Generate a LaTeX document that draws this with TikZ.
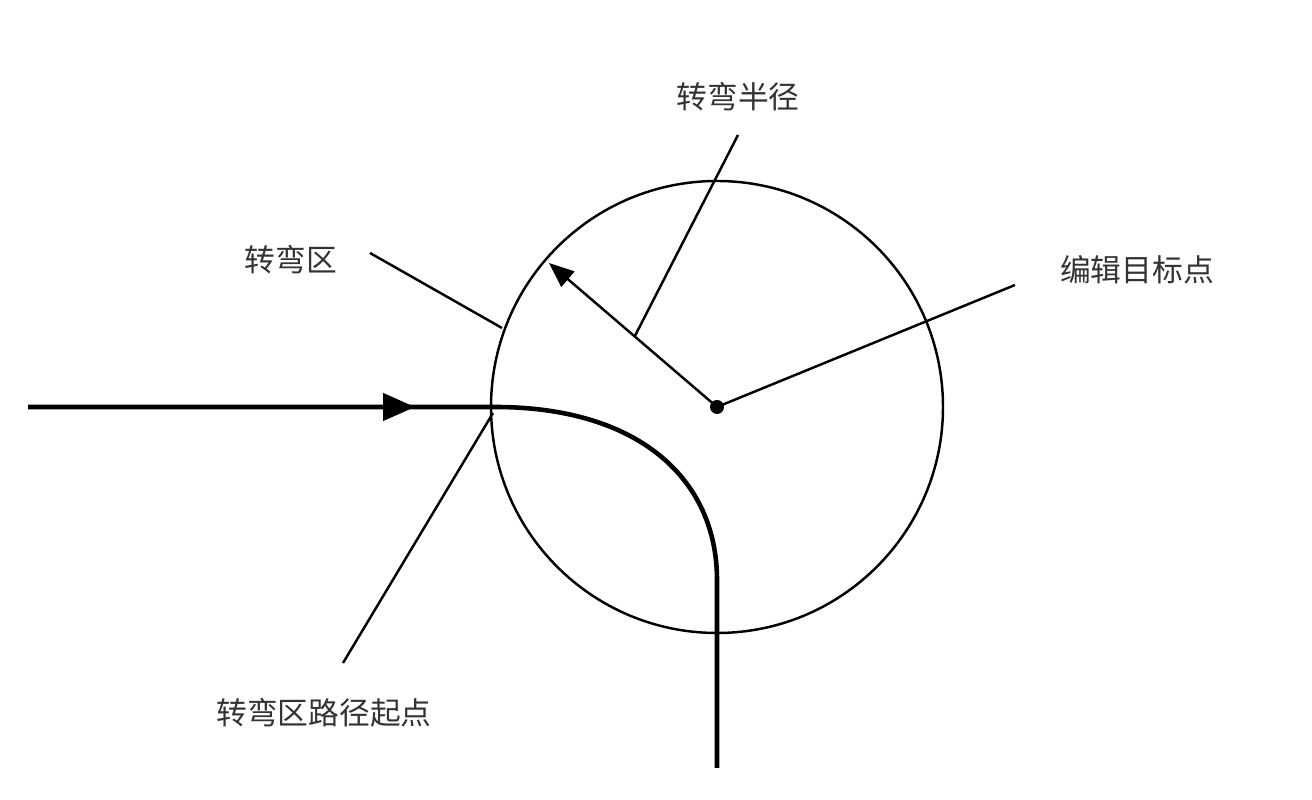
\documentclass[tikz,border=0pt]{standalone}
\usepackage{fontspec}
\setmainfont{Noto Sans CJK SC}
\usetikzlibrary{arrows.meta,calc}
\tikzset{
	lbl/.style={font=\fontsize{17.5}{20}\selectfont, text=black!80},
	lead/.style={line width=1.4pt},
	route/.style={line width=2.6pt}
}
\begin{document}
\begin{tikzpicture}
			\useasboundingbox (0,0) rectangle (26.24,16);
			% turning zone
			\coordinate (ctr) at (14.34, 7.86);
			\draw[lead](ctr) circle (4.52);
			\fill(ctr) circle (0.14);
				\coordinate (tip) at (10.98, 10.74);
				\draw[lead, -{Triangle[length=5mm, width=4mm]}](ctr) to (tip);

			% path
			\coordinate (in) at (0.56, 7.86);
			\coordinate (mid) at (8.3, 7.86);
			\coordinate (entry) at (9.9, 7.86);
			\coordinate (down) at (14.34, 4.4);
			\coordinate (out) at (14.34, 0.64);
			\draw[route](in) -- (entry) .. controls (12.8, 7.86) and (14.34, 6.4) .. (down) -- (out);
			\draw[route, -{Triangle[length=6.4mm, width=5.4mm]}](in) to (mid);

			% labels
			\node[lbl] (radius) at(14.76, 14.06){转弯半径};
				\coordinate (radiusA) at (14.76, 13.3);
				\draw[lead](radiusA) to ($(ctr)!0.49!(tip)$);
			\node[lbl] (zone) at(5.82, 10.8){转弯区};
				\coordinate (zoneA) at (7.4, 10.94);
				\coordinate (zoneB) at (10.04, 9.44);
				\draw[lead](zoneA) to (zoneB);
			\node[lbl] (target) at(22.74, 10.6){编辑目标点};
				\coordinate (targetA) at (20.3, 10.3);
				\draw[lead](ctr) to (targetA);
			\node[lbl] (start) at(6.48, 1.74){转弯区路径起点};
				\coordinate (startA) at (6.86, 2.74);
				\coordinate (startB) at (9.86, 7.74);
				\draw[lead](startA) to (startB);

		\end{tikzpicture}
\end{document}
